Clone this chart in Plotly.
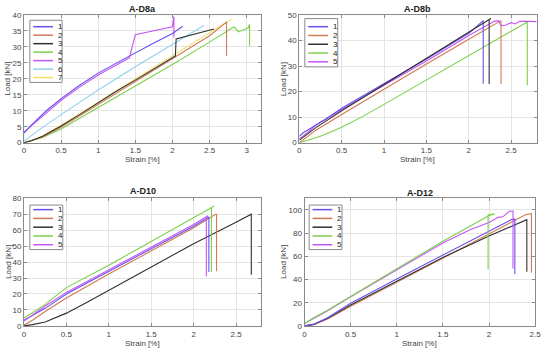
import plotly.graph_objects as go

W, H = 550, 354

# ---------------- data ----------------
# A-D8a
d8a_s1_strain = [0, 0.1, 0.3, 0.5, 0.75, 1.0, 1.25, 1.5, 1.75, 2.0, 2.14]
d8a_s1_load = [3.0, 5.5, 10.0, 13.8, 18.0, 21.8, 25.0, 28.2, 31.2, 34.2, 36.5]
d8a_s2_strain = [0, 0.25, 0.5, 1.0, 1.5, 2.0, 2.5, 2.72, 2.73, 2.73]
d8a_s2_load = [0, 1.8, 4.8, 12.0, 19.2, 26.2, 33.5, 37.6, 37.9, 27.2]
d8a_s3_strain = [0, 0.1, 0.25, 0.5, 0.75, 1.0, 1.25, 1.5, 1.75, 2.0, 2.04, 2.05, 2.3, 2.56]
d8a_s3_load = [0, 0.6, 2.0, 5.2, 8.8, 12.6, 16.2, 19.6, 23.0, 26.6, 27.2, 32.5, 34.0, 35.6]
d8a_s4_strain = [0, 0.25, 0.5, 1.0, 1.5, 2.0, 2.5, 2.83, 2.89, 3.02, 3.04, 3.04]
d8a_s4_load = [0, 1.6, 4.3, 11.0, 17.8, 24.5, 31.5, 36.3, 34.7, 35.9, 37.1, 30.2]
d8a_s5_strain = [0, 0.1, 0.3, 0.5, 0.75, 1.0, 1.25, 1.42, 1.5, 2.0, 2.02, 2.02]
d8a_s5_load = [3.3, 5.3, 9.6, 13.3, 17.4, 21.2, 24.4, 26.6, 33.8, 36.3, 39.5, 33.0]
d8a_s6_strain = [0, 0.25, 0.5, 1.0, 1.5, 2.0, 2.43]
d8a_s6_load = [0.5, 4.8, 8.8, 16.5, 23.8, 30.8, 36.8]
d8a_s7_strain = [0, 0.25, 0.5, 1.0, 1.5, 2.0, 2.5, 2.8]
d8a_s7_load = [0, 2.0, 5.5, 12.8, 20.0, 27.2, 34.5, 38.8]

# A-D8b
d8b_s1_strain = [0, 0.05, 0.1, 0.2, 0.3, 0.5, 1.0, 1.5, 2.0, 2.17, 2.17]
d8b_s1_load = [2.5, 4.0, 5.0, 7.0, 9.0, 13.5, 23.0, 32.8, 42.8, 47.8, 23.1]
d8b_s2_strain = [0, 0.1, 0.2, 0.5, 1.0, 1.5, 2.0, 2.3, 2.38, 2.38]
d8b_s2_load = [0, 2.5, 5.0, 11.0, 21.0, 30.8, 40.5, 46.5, 47.8, 23.0]
d8b_s3_strain = [0, 0.1, 0.2, 0.5, 1.0, 1.5, 2.0, 2.26, 2.24, 2.24]
d8b_s3_load = [1.0, 3.5, 6.0, 12.5, 22.8, 33.0, 43.2, 48.6, 48.2, 23.0]
d8b_s4_strain = [0, 0.25, 0.5, 0.75, 1.0, 1.5, 2.0, 2.5, 2.69, 2.69]
d8b_s4_load = [0, 2.5, 6.0, 10.3, 15.0, 24.5, 34.0, 43.5, 47.3, 22.5]
d8b_s5_strain = [0, 0.1, 0.2, 0.5, 1.0, 1.5, 2.0, 2.3, 2.35, 2.38, 2.43, 2.5, 2.55, 2.6, 2.7, 2.8]
d8b_s5_load = [1.5, 4.0, 7.0, 13.0, 22.5, 32.0, 42.0, 47.5, 47.8, 45.8, 46.0, 47.0, 46.5, 47.5, 47.5, 47.4]

# A-D10
d10_s1_strain = [0, 0.1, 0.25, 0.5, 1.0, 1.5, 2.0, 2.18, 2.18]
d10_s1_load = [3.5, 6.5, 11.0, 20.0, 34.0, 48.5, 62.5, 68.2, 33.8]
d10_s2_strain = [0, 0.1, 0.25, 0.5, 1.0, 1.5, 2.0, 2.26, 2.27, 2.27]
d10_s2_load = [0.5, 3.5, 9.0, 17.5, 32.5, 47.0, 61.5, 70.0, 70.0, 34.2]
d10_s3_strain = [0, 0.1, 0.25, 0.5, 0.75, 1.0, 1.5, 2.0, 2.5, 2.68, 2.68]
d10_s3_load = [0, 0.8, 2.5, 8.0, 15.0, 22.3, 37.3, 51.5, 65.0, 70.0, 32.0]
d10_s4_strain = [0, 0.05, 0.15, 0.25, 0.5, 1.0, 1.5, 2.0, 2.24, 2.21, 2.21]
d10_s4_load = [5.0, 6.5, 10.0, 13.5, 24.0, 38.0, 53.0, 68.0, 75.0, 74.0, 33.8]
d10_s5_strain = [0, 0.1, 0.25, 0.5, 1.0, 1.5, 2.0, 2.17, 2.15, 2.15]
d10_s5_load = [3.0, 7.0, 12.5, 21.0, 35.0, 49.0, 63.5, 69.0, 68.0, 31.0]

# A-D12
d12_s1_strain = [0, 0.1, 0.25, 0.5, 1.0, 1.5, 2.0, 2.25, 2.28, 2.28]
d12_s1_load = [0, 1.5, 7.0, 19.5, 40.5, 61.0, 82.0, 91.8, 92.0, 44.7]
d12_s2_strain = [0, 0.1, 0.25, 0.5, 1.0, 1.5, 2.0, 2.3, 2.4, 2.46, 2.46]
d12_s2_load = [0, 1.0, 6.0, 17.0, 37.5, 58.5, 79.0, 91.5, 96.0, 96.7, 46.0]
d12_s3_strain = [0, 0.1, 0.25, 0.5, 1.0, 1.5, 2.0, 2.2, 2.4, 2.41, 2.41]
d12_s3_load = [0, 1.2, 6.5, 18.0, 38.5, 59.0, 77.5, 84.5, 91.0, 91.5, 46.6]
d12_s4_strain = [0, 0.1, 0.25, 0.5, 1.0, 1.5, 1.75, 1.99, 2.06, 1.99, 1.99]
d12_s4_load = [2.0, 7.0, 13.5, 25.5, 49.5, 73.0, 84.0, 94.7, 96.7, 95.5, 48.8]
d12_s5_strain = [0, 0.25, 0.5, 1.0, 1.5, 1.8, 2.0, 2.1, 2.15, 2.22, 2.26, 2.26]
d12_s5_load = [2.0, 13.0, 25.0, 48.5, 71.5, 83.0, 89.0, 93.5, 94.0, 98.8, 99.0, 49.4]

titles = ["A-D8a", "A-D8b", "A-D10", "A-D12"]
series_names_7 = ["1", "2", "3", "4", "5", "6", "7"]
series_names_5 = ["1", "2", "3", "4", "5"]
x_ranges = [[0, 3.2], [0, 2.8], [0, 2.8], [0, 2.5]]
y_ranges = [[0, 40], [0, 50], [0, 80], [0, 110]]
x_ticks = [[0, 0.5, 1, 1.5, 2, 2.5, 3], [0, 0.5, 1, 1.5, 2, 2.5],
           [0, 0.5, 1, 1.5, 2, 2.5], [0, 0.5, 1, 1.5, 2, 2.5]]
y_ticks = [[0, 5, 10, 15, 20, 25, 30, 35, 40], [0, 10, 20, 30, 40, 50],
           [0, 10, 20, 30, 40, 50, 60, 70, 80], [0, 20, 40, 60, 80, 100]]

# ---------------- styling ----------------
colors = ["#6a4ff0", "#d07a50", "#303030", "#7cd04a", "#c455f5", "#8fd0ee", "#f0e060"]
FONT = "Liberation Sans, Arial, sans-serif"

panels = [
    [(d8a_s1_strain, d8a_s1_load), (d8a_s2_strain, d8a_s2_load), (d8a_s3_strain, d8a_s3_load),
     (d8a_s4_strain, d8a_s4_load), (d8a_s5_strain, d8a_s5_load), (d8a_s6_strain, d8a_s6_load),
     (d8a_s7_strain, d8a_s7_load)],
    [(d8b_s1_strain, d8b_s1_load), (d8b_s2_strain, d8b_s2_load), (d8b_s3_strain, d8b_s3_load),
     (d8b_s4_strain, d8b_s4_load), (d8b_s5_strain, d8b_s5_load)],
    [(d10_s1_strain, d10_s1_load), (d10_s2_strain, d10_s2_load), (d10_s3_strain, d10_s3_load),
     (d10_s4_strain, d10_s4_load), (d10_s5_strain, d10_s5_load)],
    [(d12_s1_strain, d12_s1_load), (d12_s2_strain, d12_s2_load), (d12_s3_strain, d12_s3_load),
     (d12_s4_strain, d12_s4_load), (d12_s5_strain, d12_s5_load)],
]
names = [series_names_7, series_names_5, series_names_5, series_names_5]
# draw order (back to front)
draw_orders = [[5, 6, 3, 1, 2, 4, 0], [3, 1, 4, 0, 2], [2, 1, 0, 4, 3], [1, 2, 0, 4, 3]]

# pixel boxes of the plot areas: (left, right, top, bottom)
boxes = [(22.3, 263.3, 11.3, 142.3), (301.7, 542.5, 11.3, 142.3),
         (22.3, 263.3, 199.3, 330.3), (307.0, 541.0, 199.3, 330.3)]
legend_boxes = [(28.3, 61.0, 16.7, 80.5, 23.3, 8.7), (307.3, 340.7, 15.0, 64.5, 23.3, 9.0),
                (28.3, 61.7, 206.3, 252.0, 211.0, 9.0), (311.7, 345.0, 206.3, 252.0, 211.0, 9.0)]
ylabel_x = [6.0, 286.5, 6.0, 285.0]
title_y = [5.0, 5.0, 192.0, 193.5]
xlabel_y = [160.0, 160.0, 348.5, 348.5]


def px(x):
    return x / W


def py(y):
    return 1 - y / H


fig = go.Figure()
shapes = []
annotations = []

for i in range(4):
    sfx = "" if i == 0 else str(i + 1)
    xa, ya = "x" + sfx, "y" + sfx
    for k in draw_orders[i]:
        sx, sy = panels[i][k]
        fig.add_trace(go.Scatter(x=sx, y=sy, mode="lines", name=names[i][k],
                                 line=dict(color=colors[k], width=1.1),
                                 xaxis=xa, yaxis=ya, showlegend=False, hoverinfo="skip"))
    l, r, t, b = boxes[i]
    axis_common = dict(showgrid=True, gridcolor="#e4e4e4", gridwidth=1, zeroline=False,
                       showline=True, linecolor="#8a8a8a", linewidth=1, mirror="ticks",
                       ticks="inside", ticklen=3, tickcolor="#8a8a8a",
                       tickfont=dict(family=FONT, size=8, color="#444444"))
    fig.update_layout(**{
        "xaxis" + sfx: dict(domain=[px(l), px(r)], range=x_ranges[i], tickvals=x_ticks[i],
                            anchor=ya, **axis_common),
        "yaxis" + sfx: dict(domain=[py(b), py(t)], range=y_ranges[i], tickvals=y_ticks[i],
                            anchor=xa, **axis_common),
    })
    # titles and axis labels
    annotations.append(dict(text="<b>" + titles[i] + "</b>", x=px((l + r) / 2), y=py(title_y[i]),
                            xref="paper", yref="paper", showarrow=False,
                            xanchor="center", yanchor="middle",
                            font=dict(family=FONT, size=9, color="#222222")))
    annotations.append(dict(text="Strain [%]", x=px((l + r) / 2), y=py(xlabel_y[i]),
                            xref="paper", yref="paper", showarrow=False,
                            xanchor="center", yanchor="middle",
                            font=dict(family=FONT, size=8, color="#444444")))
    annotations.append(dict(text="Load [kN]", x=px(ylabel_x[i]), y=py((t + b) / 2),
                            xref="paper", yref="paper", showarrow=False, textangle=-90,
                            xanchor="center", yanchor="middle",
                            font=dict(family=FONT, size=8, color="#444444")))
    # legend
    ll, lr, lt, lb, first, step = legend_boxes[i]
    shapes.append(dict(type="rect", xref="paper", yref="paper", x0=px(ll), x1=px(lr),
                       y0=py(lb), y1=py(lt), line=dict(color="#8a8a8a", width=1),
                       fillcolor="white", layer="above"))
    for k, nm in enumerate(names[i]):
        yy = first + k * step
        shapes.append(dict(type="line", xref="paper", yref="paper", x0=px(ll + 3.4),
                           x1=px(ll + 23.5), y0=py(yy), y1=py(yy),
                           line=dict(color=colors[k], width=1.5), layer="above"))
        annotations.append(dict(text=nm, x=px(ll + 26.5), y=py(yy), xref="paper", yref="paper",
                                xanchor="left", yanchor="middle", showarrow=False,
                                font=dict(family=FONT, size=8, color="#222222")))

fig.update_layout(width=W, height=H, margin=dict(l=0, r=0, t=0, b=0),
                  paper_bgcolor="white", plot_bgcolor="white",
                  shapes=shapes, annotations=annotations, showlegend=False)

fig.write_html("out.html", config={"displayModeBar": False},
               post_script="document.body.style.margin='0';document.body.style.overflow='hidden';")
